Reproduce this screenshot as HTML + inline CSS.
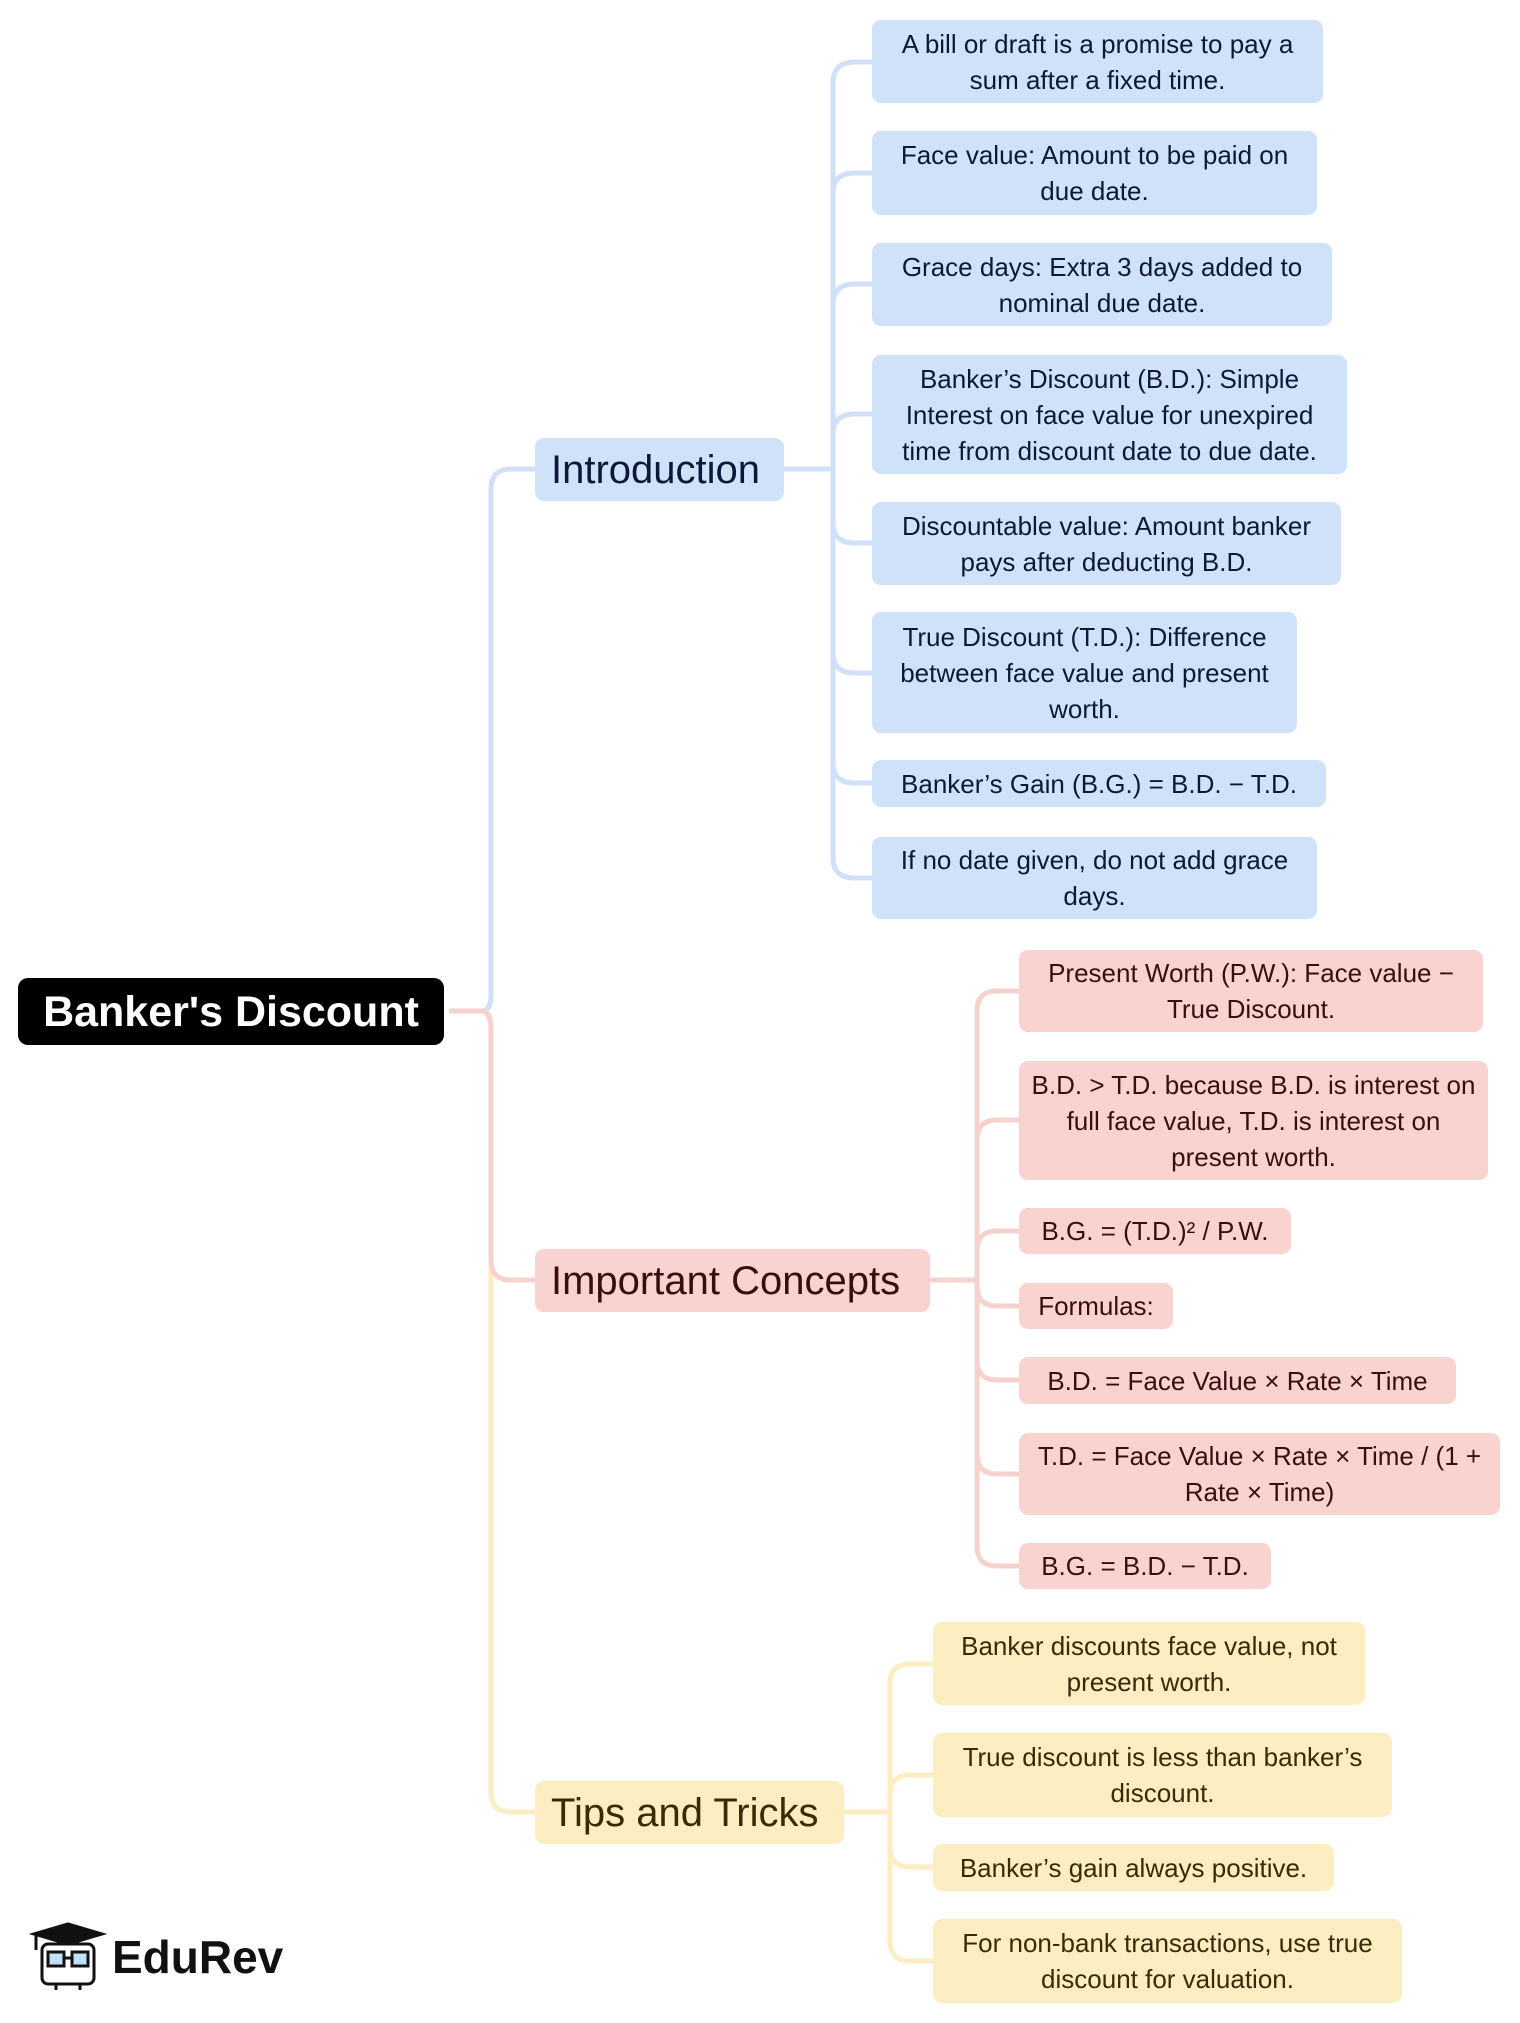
<!DOCTYPE html>
<html><head><meta charset="utf-8"><style>
body{margin:0;width:1520px;height:2023px;background:#fff;position:relative;overflow:hidden;font-family:"Liberation Sans",Arial,sans-serif}
.n{position:absolute;display:flex;align-items:center;justify-content:center;text-align:center;border-radius:9px;box-sizing:border-box;padding:0 12px;font-size:26px;line-height:36px}
.b{background:#d0e2fa;color:#0c1838}
.p{background:#f8d3d0;color:#3a0e0e}
.y{background:#fdedc2;color:#3a2a05}
.h{font-size:40px;justify-content:flex-start;padding:0 16px;white-space:nowrap}
svg{position:absolute;left:0;top:0}
</style></head><body>
<svg width="1520" height="2023" fill="none" stroke-width="5">
<g stroke="#cfe0f8">
<path d="M449 1011 H481 Q491 1011 491 996 V489 Q491 469 511 469 H535"/>
<path d="M784 469 H833"/>
<path d="M833 469 V83 Q833 62 855 62 H872 M833 469 V193 Q833 173 855 173 H872 M833 469 V304 Q833 284 855 284 H872 M833 469 V434 Q833 414 855 414 H872 M833 469 V523 Q833 543 855 543 H872 M833 469 V653 Q833 673 855 673 H872 M833 469 V763 Q833 783 855 783 H872 M833 469 V858 Q833 878 855 878 H872"/>
</g>
<g stroke="#fdedc2">
<path d="M449 1011 H481 Q491 1011 491 1026 V1792 Q491 1812 511 1812 H535"/>
<path d="M844 1812 H890"/>
<path d="M890 1812 V1684 Q890 1664 910 1664 H933 M890 1812 V1795 Q890 1775 910 1775 H933 M890 1812 V1847 Q890 1867 910 1867 H933 M890 1812 V1941 Q890 1961 910 1961 H933"/>
</g>
<g stroke="#f7d1ce">
<path d="M449 1011 H481 Q491 1011 491 1031 V1260 Q491 1280 511 1280 H535"/>
<path d="M930 1280 H977"/>
<path d="M977 1280 V1011 Q977 991 997 991 H1019 M977 1280 V1140 Q977 1120 997 1120 H1019 M977 1280 V1251 Q977 1231 997 1231 H1019 M977 1280 V1286 Q977 1306 997 1306 H1019 M977 1280 V1360 Q977 1380 997 1380 H1019 M977 1280 V1454 Q977 1474 997 1474 H1019 M977 1280 V1546 Q977 1566 997 1566 H1019"/>
</g>
</svg>

<div class="n" style="left:18px;top:978px;width:426px;height:67px;background:#000;color:#fff;font-weight:bold;font-size:43px;border-radius:10px;padding:0;white-space:nowrap">Banker's Discount</div>

<div class="n b h" style="left:535px;top:438px;width:249px;height:63px">Introduction</div>
<div class="n b" style="left:872px;top:20px;width:451px;height:83px">A bill or draft is a promise to pay a sum after a fixed time.</div>
<div class="n b" style="left:872px;top:131px;width:445px;height:84px">Face value: Amount to be paid on due date.</div>
<div class="n b" style="left:872px;top:243px;width:460px;height:83px">Grace days: Extra 3 days added to nominal due date.</div>
<div class="n b" style="left:872px;top:355px;width:475px;height:119px">Banker’s Discount (B.D.): Simple Interest on face value for unexpired time from discount date to due date.</div>
<div class="n b" style="left:872px;top:502px;width:469px;height:83px">Discountable value: Amount banker pays after deducting B.D.</div>
<div class="n b" style="left:872px;top:612px;width:425px;height:121px">True Discount (T.D.): Difference between face value and present worth.</div>
<div class="n b" style="left:872px;top:760px;width:454px;height:47px">Banker’s Gain (B.G.) = B.D. − T.D.</div>
<div class="n b" style="left:872px;top:837px;width:445px;height:82px">If no date given, do not add grace days.</div>

<div class="n p h" style="left:535px;top:1249px;width:395px;height:63px">Important Concepts</div>
<div class="n p" style="left:1019px;top:950px;width:464px;height:82px">Present Worth (P.W.): Face value − True Discount.</div>
<div class="n p" style="left:1019px;top:1061px;width:469px;height:119px">B.D. &gt; T.D. because B.D. is interest on full face value, T.D. is interest on present worth.</div>
<div class="n p" style="left:1019px;top:1208px;width:272px;height:46px">B.G. = (T.D.)² / P.W.</div>
<div class="n p" style="left:1019px;top:1283px;width:154px;height:46px">Formulas:</div>
<div class="n p" style="left:1019px;top:1357px;width:437px;height:47px">B.D. = Face Value × Rate × Time</div>
<div class="n p" style="left:1019px;top:1433px;width:481px;height:82px">T.D. = Face Value × Rate × Time / (1 + Rate × Time)</div>
<div class="n p" style="left:1019px;top:1543px;width:252px;height:46px">B.G. = B.D. − T.D.</div>

<div class="n y h" style="left:535px;top:1781px;width:309px;height:63px">Tips and Tricks</div>
<div class="n y" style="left:933px;top:1622px;width:432px;height:83px">Banker discounts face value, not present worth.</div>
<div class="n y" style="left:933px;top:1733px;width:459px;height:84px">True discount is less than banker’s discount.</div>
<div class="n y" style="left:933px;top:1844px;width:401px;height:47px">Banker’s gain always positive.</div>
<div class="n y" style="left:933px;top:1919px;width:469px;height:84px">For non-bank transactions, use true discount for valuation.</div>

<svg width="80" height="70" style="left:28px;top:1922px" stroke="#111" stroke-width="3" fill="none">
<polygon points="6,12 40,2 74,12 40,22" fill="#111"/>
<path d="M8 13 V28"/>
<rect x="14" y="22" width="52" height="40" rx="6"/>
<rect x="20" y="30" width="16" height="14" fill="#bfe0f5"/>
<rect x="44" y="30" width="16" height="14" fill="#bfe0f5"/>
<path d="M36 36 H44 M28 62 V68 M52 62 V68"/>
</svg>
<div style="position:absolute;left:112px;top:1930px;font-size:46px;font-weight:bold;color:#111">EduRev</div>
</body></html>
